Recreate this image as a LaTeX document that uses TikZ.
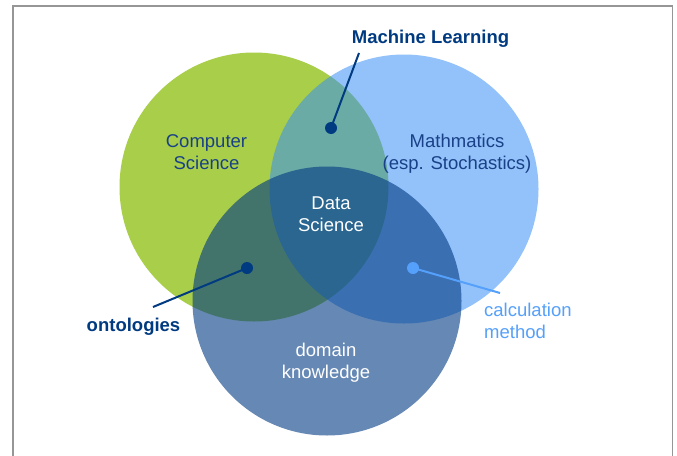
\documentclass[tikz,border=0pt]{standalone}
\usepackage{fontspec}
\setmainfont{Liberation Sans}
\definecolor{framegray}{RGB}{150,150,150}
\definecolor{csgreen}{RGB}{168,206,74}
\definecolor{mathblue}{RGB}{51,140,247}
\definecolor{domblue}{RGB}{0,57,130}
\definecolor{navytext}{RGB}{25,65,135}
\definecolor{boldnavy}{RGB}{0,58,128}
\definecolor{calcblue}{RGB}{85,160,250}
\begin{document}
\begin{tikzpicture}[x=1pt,y=-1pt,
  venn/.style={circle, minimum size=269pt, inner sep=0pt, draw=none},
  lbl/.style={font=\fontsize{18.5}{22}\selectfont, align=center, inner sep=0pt, anchor=base},
  boldlbl/.style={font=\fontsize{18.5}{22}\selectfont\bfseries, text=boldnavy, inner sep=0pt, anchor=base},
  dotnode/.style={circle, minimum size=12pt, inner sep=0pt},
  pointer/.style={line width=2pt}
]
\useasboundingbox (0,0) rectangle (677,455);
\fill[white] (0,0) rectangle (677,455);
\draw[framegray, line width=1.5pt] (13,456) -- (13,6) -- (672.5,6) -- (672.5,456);
% circles
\node[venn, fill=csgreen] (cs) at (254,187) {};
\node[venn, fill=mathblue, fill opacity=0.53] (ma) at (404,189) {};
\node[venn, fill=domblue, fill opacity=0.6] (dk) at (327,301) {};
% labels
\node[lbl, text=navytext] (cslbl) at (206.5,169) {Computer\\Science};
\node[lbl, text=navytext] (malbl) at (457,169) {Mathmatics\\(esp. Stochastics)};
\node[lbl, text=white] (dslbl) at (331,231) {Data\\Science};
\node[lbl, text=white] (dklbl) at (326,378) {domain\\knowledge};
\node[lbl, text=calcblue, align=left, anchor=base west] (calclbl) at (484,338) {calculation\\method};
\node[boldlbl] (mllbl) at (430.5,43) {Machine Learning};
\node[boldlbl] (ontlbl) at (133.5,331.5) {ontologies};
% pointers
\node[dotnode, fill=boldnavy] (mldot) at (331,128) {};
\node[dotnode, fill=boldnavy] (ontdot) at (247,268) {};
\node[dotnode, fill=calcblue] (calcdot) at (413,268) {};
\coordinate (mlend) at (359,53);
\coordinate (ontend) at (153,307);
\coordinate (calcend) at (500,293);
\draw[pointer, boldnavy] (mldot.center) -- (mlend);
\draw[pointer, boldnavy] (ontdot.center) -- (ontend);
\draw[pointer, calcblue] (calcdot.center) -- (calcend);
\end{tikzpicture}
\end{document}
